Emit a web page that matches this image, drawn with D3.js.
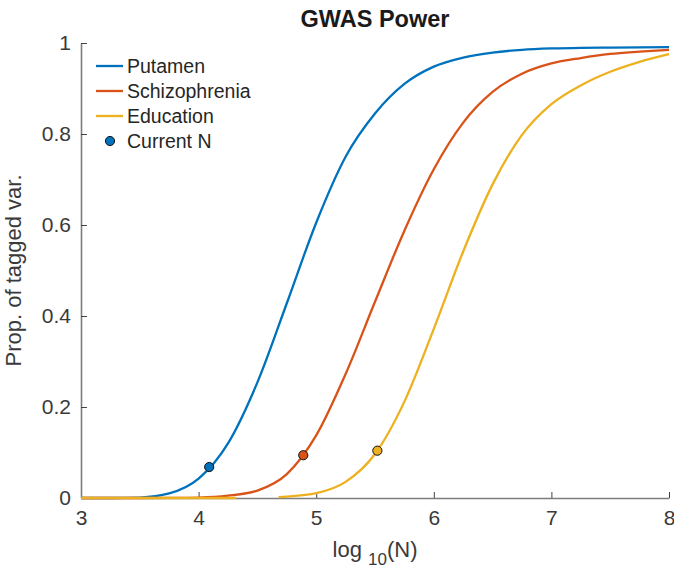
<!DOCTYPE html>
<html>
<head>
<meta charset="utf-8">
<script src="https://cdn.jsdelivr.net/npm/d3@7"></script>
<style>
    body { margin: 0; background: #fff; }
    svg { display: block; font-family: "Liberation Sans", Arial, Helvetica, sans-serif; }
</style>
</head>
<body>
<svg id="chart"></svg>
<script>
// values
const logN = [3, 3.25, 3.5, 3.75, 4, 4.25, 4.5, 4.75, 5, 5.25, 5.5, 5.75, 6, 6.25, 6.5, 6.75, 7, 7.25, 7.5, 7.75, 8];
const putamen = [0, 0, 0.001, 0.01, 0.0425, 0.12, 0.254, 0.428, 0.605, 0.75, 0.845, 0.91, 0.948, 0.968, 0.979, 0.985, 0.988, 0.9895, 0.990, 0.9905, 0.991];
const schizophrenia = [0, 0, 0, 0.0003, 0.001, 0.005, 0.0163, 0.0525, 0.1375, 0.2725, 0.4313, 0.5875, 0.7225, 0.825, 0.8925, 0.9325, 0.955, 0.967, 0.976, 0.981, 0.985];
// the education curve has a gap in the reference between 4.32 and 4.68
const educationN = [3, 3.5, 4, 4.32, 4.5, 4.68, 4.75, 5, 5.25, 5.5, 5.75, 6, 6.25, 6.5, 6.75, 7, 7.25, 7.5, 7.75, 8];
const education = [0, 0, 0, 0, null, 0.002, 0.003, 0.0105, 0.0355, 0.0968, 0.2118, 0.3718, 0.5418, 0.6893, 0.798, 0.8655, 0.9068, 0.9368, 0.9587, 0.9756];

const seriesNames = ["Putamen", "Schizophrenia", "Education"];
const currentN = [4.09, 4.89, 5.52];
const currentProp = [0.068, 0.094, 0.104];

const xTicks = [3, 4, 5, 6, 7, 8];
const yTicks = [0, 0.2, 0.4, 0.6, 0.8, 1];

class PowerChart {

    margin = {
        top: 43, right: 5, bottom: 73, left: 81
    }

    constructor(svg, width=674, height=571) {
        this.svg = svg;
        this.width = width;
        this.height = height;
    }

    initialize() {
        const innerW = this.width - this.margin.left - this.margin.right,
            innerH = this.height - this.margin.top - this.margin.bottom;

        this.color = d3.scaleOrdinal()
            .domain(seriesNames)
            .range(["#0072BD", "#D95319", "#EDB120"]);

        const x = d3.scaleLinear().domain([3, 8]).range([0, innerW]);
        const y = d3.scaleLinear().domain([0, 1]).range([innerH, 0]);

        // rows of {n, p} for each series
        const toRows = (ns, ps) => ns.map((n, i) => ({n: n, p: ps[i]}));
        const data = [
            {name: "Putamen", values: toRows(logN, putamen)},
            {name: "Schizophrenia", values: toRows(logN, schizophrenia)},
            {name: "Education", values: toRows(educationN, education)}
        ];

        this.svg = d3.select(this.svg)
            .attr("width", this.width)
            .attr("height", this.height);

        const g = this.svg.append("g")
            .attr("transform", `translate(${this.margin.left}, ${this.margin.top})`);

        ///////////////
        // the axes  //
        ///////////////

        const axisColor = "#7d7d7d", textColor = "#3a3a3a";

        // inward ticks like matlab, drawn below the data
        const xAxis = g.append("g")
            .attr("transform", `translate(0, ${innerH})`)
            .call(d3.axisBottom(x).tickValues(xTicks).tickSizeInner(-6).tickSizeOuter(0).tickPadding(10)
                .tickFormat(d3.format("d")));
        const yAxis = g.append("g")
            .call(d3.axisLeft(y).tickValues(yTicks).tickSizeInner(-6).tickSizeOuter(0).tickPadding(10)
                .tickFormat(d => d === 0 || d === 1 ? d : d3.format(".1f")(d)));

        [xAxis, yAxis].forEach(ax => {
            ax.select(".domain").attr("stroke", axisColor).attr("stroke-width", 1.6);
            ax.selectAll(".tick line").attr("stroke", "#444").attr("stroke-width", 1);
            ax.selectAll(".tick text")
                .attr("fill", textColor)
                .style("font-size", "21px")
                .style("font-family", "'Liberation Sans', Arial, sans-serif");
        });
        xAxis.selectAll(".tick text").attr("dy", "0.8em");

        /////////////////
        // the curves  //
        /////////////////

        const line = d3.line()
            .defined(d => d.p != null)
            .curve(d3.curveMonotoneX)
            .x(d => x(d.n))
            .y(d => y(d.p));

        g.selectAll(".curve")
            .data(data)
            .enter().append("path")
            .attr("class", "curve")
            .attr("d", d => line(d.values))
            .attr("fill", "none")
            .attr("stroke", d => this.color(d.name))
            .attr("stroke-width", 2.3);

        // current sample size markers
        g.selectAll(".current")
            .data(currentN)
            .enter().append("circle")
            .attr("class", "current")
            .attr("cx", d => x(d))
            .attr("cy", (d, i) => y(currentProp[i]))
            .attr("r", 4.6)
            .attr("fill", (d, i) => this.color(seriesNames[i]))
            .attr("stroke", "#111")
            .attr("stroke-width", 1);

        /////////////////
        // the legend  //
        /////////////////

        const legend = this.svg.append("g").attr("transform", "translate(96, 66)");
        const rowH = 25;

        const rows = legend.selectAll(".row")
            .data(seriesNames)
            .enter().append("g")
            .attr("class", "row")
            .attr("transform", (d, i) => `translate(0, ${i * rowH})`);
        rows.append("line")
            .attr("x1", 0).attr("x2", 27)
            .attr("stroke", d => this.color(d))
            .attr("stroke-width", 2.3);
        rows.append("text")
            .attr("x", 31)
            .attr("dy", "0.35em")
            .attr("fill", "#262626")
            .style("font-size", "19.5px")
            .text(d => d);

        const dotRow = legend.append("g").attr("transform", `translate(0, ${3 * rowH})`);
        dotRow.append("circle")
            .attr("cx", 14).attr("r", 4.6)
            .attr("fill", this.color("Putamen"))
            .attr("stroke", "#111").attr("stroke-width", 1);
        dotRow.append("text")
            .attr("x", 31)
            .attr("dy", "0.35em")
            .attr("fill", "#262626")
            .style("font-size", "19.5px")
            .text("Current N");

        /////////////////////////
        // title and labels    //
        /////////////////////////

        this.svg.append("text")
            .attr("x", this.margin.left + innerW / 2)
            .attr("y", 27)
            .attr("text-anchor", "middle")
            .attr("fill", "#1a1a1a")
            .style("font-size", "23.5px")
            .style("font-weight", "bold")
            .text("GWAS Power");

        this.svg.append("text")
            .attr("transform", `translate(21, ${this.margin.top + innerH / 2}) rotate(-90)`)
            .attr("text-anchor", "middle")
            .attr("fill", textColor)
            .style("font-size", "22px")
            .text("Prop. of tagged var.");

        const xl = this.svg.append("text")
            .attr("x", this.margin.left + innerW / 2)
            .attr("y", 557)
            .attr("text-anchor", "middle")
            .attr("fill", textColor)
            .style("font-size", "22px");
        xl.append("tspan").text("log ");
        xl.append("tspan").attr("dy", 8).style("font-size", "17px").text("10");
        xl.append("tspan").attr("dy", -8).text("(N)");
    }
}

new PowerChart(document.getElementById("chart")).initialize();
</script>
</body>
</html>
